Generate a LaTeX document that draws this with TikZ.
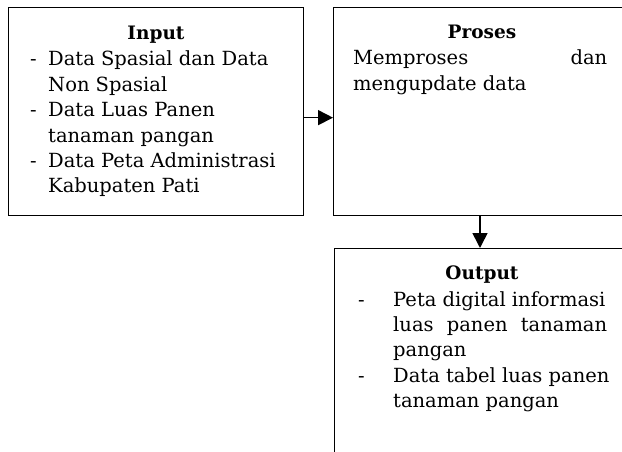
\documentclass[tikz,border=0pt]{standalone}
\usepackage{fontspec}
\setmainfont{DejaVu Serif}
\usetikzlibrary{arrows.meta,calc}
\begin{document}
\begin{tikzpicture}[x=1pt,y=1pt,
  box/.style={draw, line width=1.3pt, inner sep=0pt, anchor=north west},
  txt/.style={anchor=base west, inner sep=0pt, font=\fontsize{19.5}{25}\selectfont},
  ttl/.style={anchor=base, inner sep=0pt, font=\fontsize{18.5}{22}\selectfont\bfseries},
  arr/.style={line width=1.6pt, -{Triangle[length=15pt,width=15pt]}}]
\useasboundingbox (0,0) rectangle (622,-452);
\clip (0,0) rectangle (622,-452);
% boxes
\node[box, minimum width=295pt, minimum height=208pt] (in) at (8,-7) {};
\node[box, minimum width=310pt, minimum height=208pt] (pr) at (333,-7) {};
\node[box, minimum width=310pt, minimum height=230pt] (out) at (334,-248) {};
% connectors
\draw[arr] ([yshift=-6pt]in.east) -- ([yshift=-6pt]pr.west);
\draw[arr] ($(pr.south west)+(147,0)$) -- ($(out.north west)+(146,0)$);
% Input text
\node[ttl] (inT) at (156,-39.5) {Input};
\node[txt] (id1) at (30,-66) {-};
\node[txt] (id2) at (30,-116.8) {-};
\node[txt] (id3) at (30,-167.6) {-};
\node[txt] (i1) at (48,-66) {Data Spasial dan Data};
\node[txt] (i2) at (48,-91.4) {Non Spasial};
\node[txt] (i3) at (48,-116.8) {Data Luas Panen};
\node[txt] (i4) at (48,-142.2) {tanaman pangan};
\node[txt] (i5) at (48,-167.6) {Data Peta Administrasi};
\node[txt] (i6) at (48,-193) {Kabupaten Pati};
% Proses text
\node[ttl] (prT) at (482,-39) {Proses};
\node[txt] (p1) at (353,-65) {\makebox[254pt][s]{Memproses dan}};
\node[txt] (p2) at (353,-91) {mengupdate data};
% Output text
\node[ttl] (outT) at (482,-279) {Output};
\node[txt] (od1) at (358,-306) {-};
\node[txt] (od2) at (358,-382.2) {-};
\node[txt] (o1) at (393,-306) {Peta digital informasi};
\node[txt] (o2) at (393,-331.4) {\makebox[214pt][s]{luas panen tanaman}};
\node[txt] (o3) at (393,-356.8) {pangan};
\node[txt] (o4) at (393,-382.2) {Data tabel luas panen};
\node[txt] (o5) at (393,-407.6) {tanaman pangan};
\end{tikzpicture}
\end{document}
